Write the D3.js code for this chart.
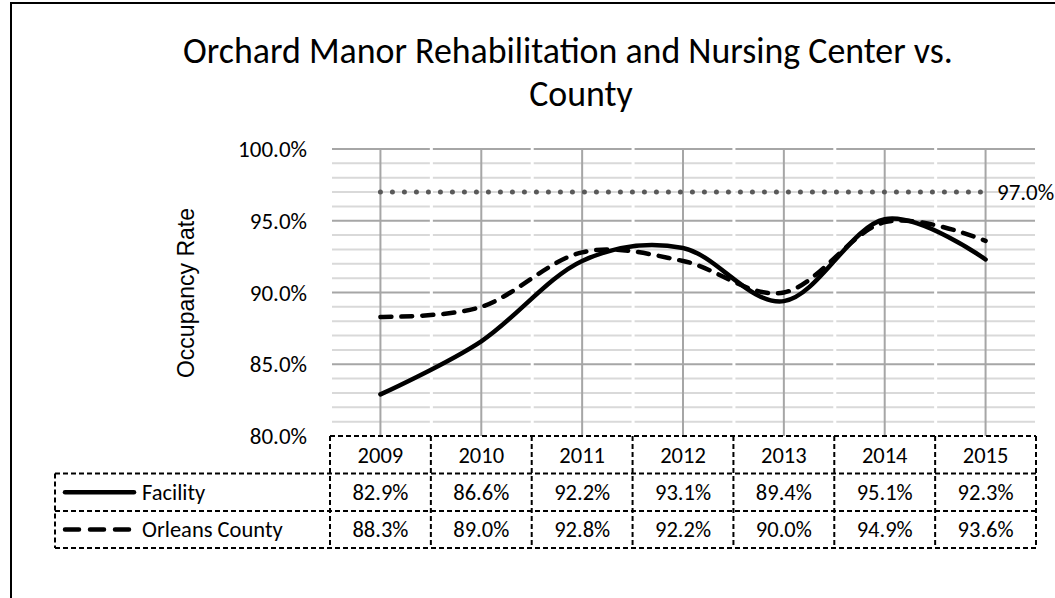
<!DOCTYPE html>
<html>
<head>
<meta charset="utf-8">
<script src="https://cdn.jsdelivr.net/npm/d3@7"></script>
<style>
  body { margin: 0; background: #fff; }
  svg { display: block; }
  .txt { font-family: Carlito, Calibri, Lato, "Open Sans", sans-serif; fill: #000; }
</style>
</head>
<body>
<div id="chart"></div>
<script>
// Chart data
const years = ['2009', '2010', '2011', '2012', '2013', '2014', '2015'];
const facility = [82.9, 86.6, 92.2, 93.1, 89.4, 95.1, 92.3];
const county = [88.3, 89.0, 92.8, 92.2, 90.0, 94.9, 93.6];
const target = 97.0;
const yTicks = [80, 85, 90, 95, 100];
const titleLines = ['Orchard Manor Rehabilitation and Nursing Center vs.', 'County'];

const width = 1055, height = 598;
const svg = d3.select('#chart').append('svg')
    .attr('width', width)
    .attr('height', height);

// Outer chart border (continues past right and bottom edges)
svg.append('rect')
    .attr('x', 11).attr('y', 3)
    .attr('width', width).attr('height', height)
    .attr('fill', 'none')
    .attr('stroke', '#000')
    .attr('stroke-width', 2);

// Scales
const x = d3.scaleBand().domain(years).range([330, 1036]);
const cx = d => x(d) + x.bandwidth() / 2;
const y = d3.scaleLinear().domain([80, 100]).range([436, 149]);

// Title, fitted to the reference line width
const title = svg.append('g');
const addTitle = (txt, xc, yb) => title.append('text')
    .attr('class', 'txt')
    .attr('x', xc).attr('y', yb)
    .attr('text-anchor', 'middle')
    .style('font-size', '36px')
    .text(txt);
const t1 = addTitle(titleLines[0], 568, 63);
const len = t1.node().getComputedTextLength();
const fs = Math.min(37, 36 * 770 / len);
t1.style('font-size', fs + 'px');
addTitle(titleLines[1], 581, 106).style('font-size', fs + 'px');

// Horizontal gridlines, broken at each category boundary
const grid = svg.append('g');
d3.range(81, 100.5, 1).forEach(v => {
    const major = v % 5 === 0;
    years.forEach(yr => {
        grid.append('line')
            .attr('x1', x(yr) + 2).attr('x2', x(yr) + x.bandwidth() - 1)
            .attr('y1', y(v)).attr('y2', y(v))
            .attr('stroke', major ? '#a6a6a6' : '#d9d9d9')
            .attr('stroke-width', 2);
    });
});

// Vertical gridlines at category centres
years.forEach(yr => {
    grid.append('line')
        .attr('x1', cx(yr)).attr('x2', cx(yr))
        .attr('y1', y(100)).attr('y2', y(80))
        .attr('stroke', '#a6a6a6')
        .attr('stroke-width', 2);
});

// Y axis tick labels
svg.append('g').selectAll('text')
    .data(yTicks)
    .join('text')
    .attr('class', 'txt')
    .attr('x', 307)
    .attr('y', d => y(d))
    .attr('dy', '0.35em')
    .attr('text-anchor', 'end')
    .style('font-size', '23px')
    .text(d => d.toFixed(1) + '%');

// Y axis title
svg.append('text')
    .attr('transform', 'translate(194,' + 293 + ') rotate(-90)')
    .attr('text-anchor', 'middle')
    .style('font-family', '"Liberation Sans", Arial, sans-serif')
    .style('font-size', '23px')
    .text('Occupancy Rate');

// Target dotted line
svg.append('line')
    .attr('x1', cx(years[0])).attr('x2', cx(years[years.length - 1]))
    .attr('y1', y(target)).attr('y2', y(target))
    .attr('stroke', '#595959')
    .attr('stroke-width', 5)
    .attr('stroke-linecap', 'round')
    .attr('stroke-dasharray', '0,12');

svg.append('text')
    .attr('class', 'txt')
    .attr('x', 997)
    .attr('y', y(target))
    .attr('dy', '0.35em')
    .style('font-size', '23px')
    .text(target.toFixed(1) + '%');

// Smoothed series lines
const line = d3.line()
    .x((d, i) => cx(years[i]))
    .y(d => y(d))
    .curve(d3.curveCatmullRom.alpha(0));

svg.append('path')
    .datum(county)
    .attr('d', line)
    .attr('fill', 'none')
    .attr('stroke', '#000')
    .attr('stroke-width', 4.5)
    .attr('stroke-linecap', 'round')
    .attr('stroke-dasharray', '11,10');

svg.append('path')
    .datum(facility)
    .attr('d', line)
    .attr('fill', 'none')
    .attr('stroke', '#000')
    .attr('stroke-width', 4.5)
    .attr('stroke-linecap', 'round');

// Data table
const rowTop = [436, 473.5, 511, 548];
const legendLeft = 55;
const table = svg.append('g')
    .attr('fill', 'none')
    .attr('stroke', '#000')
    .attr('stroke-width', 2)
    .attr('stroke-dasharray', '5,3');

// horizontal rules
table.append('line').attr('x1', x.range()[0]).attr('x2', x.range()[1])
    .attr('y1', rowTop[0]).attr('y2', rowTop[0]);
rowTop.slice(1).forEach(r => {
    table.append('line').attr('x1', legendLeft).attr('x2', x.range()[1])
        .attr('y1', r).attr('y2', r);
});
// vertical rules
table.append('line').attr('x1', legendLeft).attr('x2', legendLeft)
    .attr('y1', rowTop[1]).attr('y2', rowTop[3]);
years.forEach(yr => {
    table.append('line').attr('x1', x(yr)).attr('x2', x(yr))
        .attr('y1', rowTop[0]).attr('y2', rowTop[3]);
});
table.append('line').attr('x1', x.range()[1]).attr('x2', x.range()[1])
    .attr('y1', rowTop[0]).attr('y2', rowTop[3]);

const rowMid = i => (rowTop[i] + rowTop[i + 1]) / 2;
const cellText = (txt, xp, yp, anchor) => svg.append('text')
    .attr('class', 'txt')
    .attr('x', xp).attr('y', yp)
    .attr('dy', '0.35em')
    .attr('text-anchor', anchor || 'middle')
    .style('font-size', '22.5px')
    .text(txt);

years.forEach((yr, i) => {
    cellText(yr, cx(yr), rowMid(0));
    cellText(facility[i].toFixed(1) + '%', cx(yr), rowMid(1));
    cellText(county[i].toFixed(1) + '%', cx(yr), rowMid(2));
});

// Legend keys inside the table
const series = [
    { name: 'Facility', dash: null },
    { name: 'Orleans County', dash: '14,11' }
];
series.forEach((s, i) => {
    svg.append('line')
        .attr('x1', 65).attr('x2', s.dash ? 129 : 134)
        .attr('y1', rowMid(i + 1)).attr('y2', rowMid(i + 1))
        .attr('stroke', '#000')
        .attr('stroke-width', 4.5)
        .attr('stroke-linecap', 'round')
        .attr('stroke-dasharray', s.dash);
    cellText(s.name, 142, rowMid(i + 1), 'start');
});
</script>
</body>
</html>
